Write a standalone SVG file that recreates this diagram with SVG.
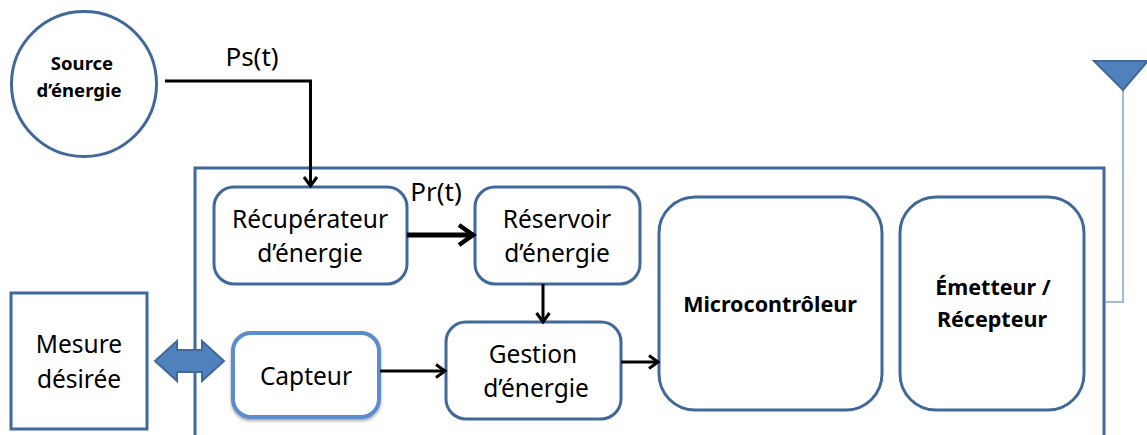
<svg xmlns="http://www.w3.org/2000/svg" width="1147" height="435" viewBox="0 0 1147 435">
<style>
.b{fill:#fff;stroke:#41689a;stroke-width:3}
.c{fill:none;stroke:#000;stroke-width:3}
text{font-family:"Noto Sans","Open Sans",sans-serif;font-size:24.5px;fill:#000;text-anchor:middle}
.s{font-weight:700;font-size:21.5px}
.t{font-size:18.5px;font-weight:700}
.l{font-size:26px}
</style>
<defs>
<marker id="a" markerUnits="userSpaceOnUse" markerWidth="16" markerHeight="18" refX="13" refY="9" orient="auto"><path d="M4 2.500L13 9L4 15.500" fill="none" stroke="#000" stroke-width="3"/></marker>
<marker id="a2" markerUnits="userSpaceOnUse" markerWidth="24" markerHeight="28" refX="20" refY="14" orient="auto"><path d="M5 4L19 14L5 24" fill="none" stroke="#000" stroke-width="4.500"/></marker>
<filter id="sh" x="-10%" y="-10%" width="120%" height="125%"><feDropShadow dx="0" dy="2" stdDeviation="1.500" flood-opacity=".35"/></filter>
</defs>
<g id="frame"><rect class="b" x="195" y="168" width="909" height="290"/></g>
<g id="antenna"><path d="M1106 302H1123V90" fill="none" stroke="#a3b9d6" stroke-width="2"/><path d="M1094 61H1147V62L1123 90Z" fill="#4f81bd" stroke="#41689a" stroke-width="2"/></g>
<g id="source"><circle class="b" cx="84" cy="84" r="72.500"/><text class="t" x="82" y="70">Source</text><text class="t" x="79" y="97">d’énergie</text></g>
<g id="recuperateur"><rect class="b" x="214" y="187" width="193" height="97" rx="20"/><text x="310" y="228">Récupérateur</text><text x="310" y="262">d’énergie</text></g>
<g id="reservoir"><rect class="b" x="475" y="187" width="165" height="97" rx="20"/><text x="557" y="228">Réservoir</text><text x="557" y="262">d’énergie</text></g>
<g id="gestion"><rect class="b" x="446" y="322" width="175" height="97" rx="20"/><text x="533" y="363">Gestion</text><text x="536" y="397">d’énergie</text></g>
<g id="micro"><rect class="b" x="659" y="197" width="223" height="213" rx="36"/><text class="s" x="770" y="312">Microcontrôleur</text></g>
<g id="emetteur"><rect class="b" x="900" y="197" width="184" height="213" rx="36"/><text class="s" x="993" y="295">Émetteur /</text><text class="s" x="992" y="327">Récepteur</text></g>
<g id="mesure"><rect class="b" x="11" y="293" width="136" height="136"/><text x="79" y="353">Mesure</text><text x="79" y="388">désirée</text></g>
<g id="capteur"><rect x="233" y="333" width="146" height="84" rx="18" fill="#fff" stroke="#5b8ccb" stroke-width="4" filter="url(#sh)"/><text x="306" y="385">Capteur</text></g>
<g id="connectors">
<path class="c" d="M165 81H310.500V186" marker-end="url(#a)"/>
<path d="M407 235H474" fill="none" stroke="#000" stroke-width="5" marker-end="url(#a2)"/>
<path class="c" d="M543 284V322" marker-end="url(#a)"/>
<path class="c" d="M380 371H445" marker-end="url(#a)"/>
<path class="c" d="M621 362H658" marker-end="url(#a)"/>
<path d="M155 361L177 341V350H202V341L224 361L202 381V372H177V381Z" fill="#4f81bd" stroke="#41689a" stroke-width="2"/>
</g>
<text class="l" x="252" y="66">Ps(t)</text>
<text class="l" x="436" y="201">Pr(t)</text>
</svg>
